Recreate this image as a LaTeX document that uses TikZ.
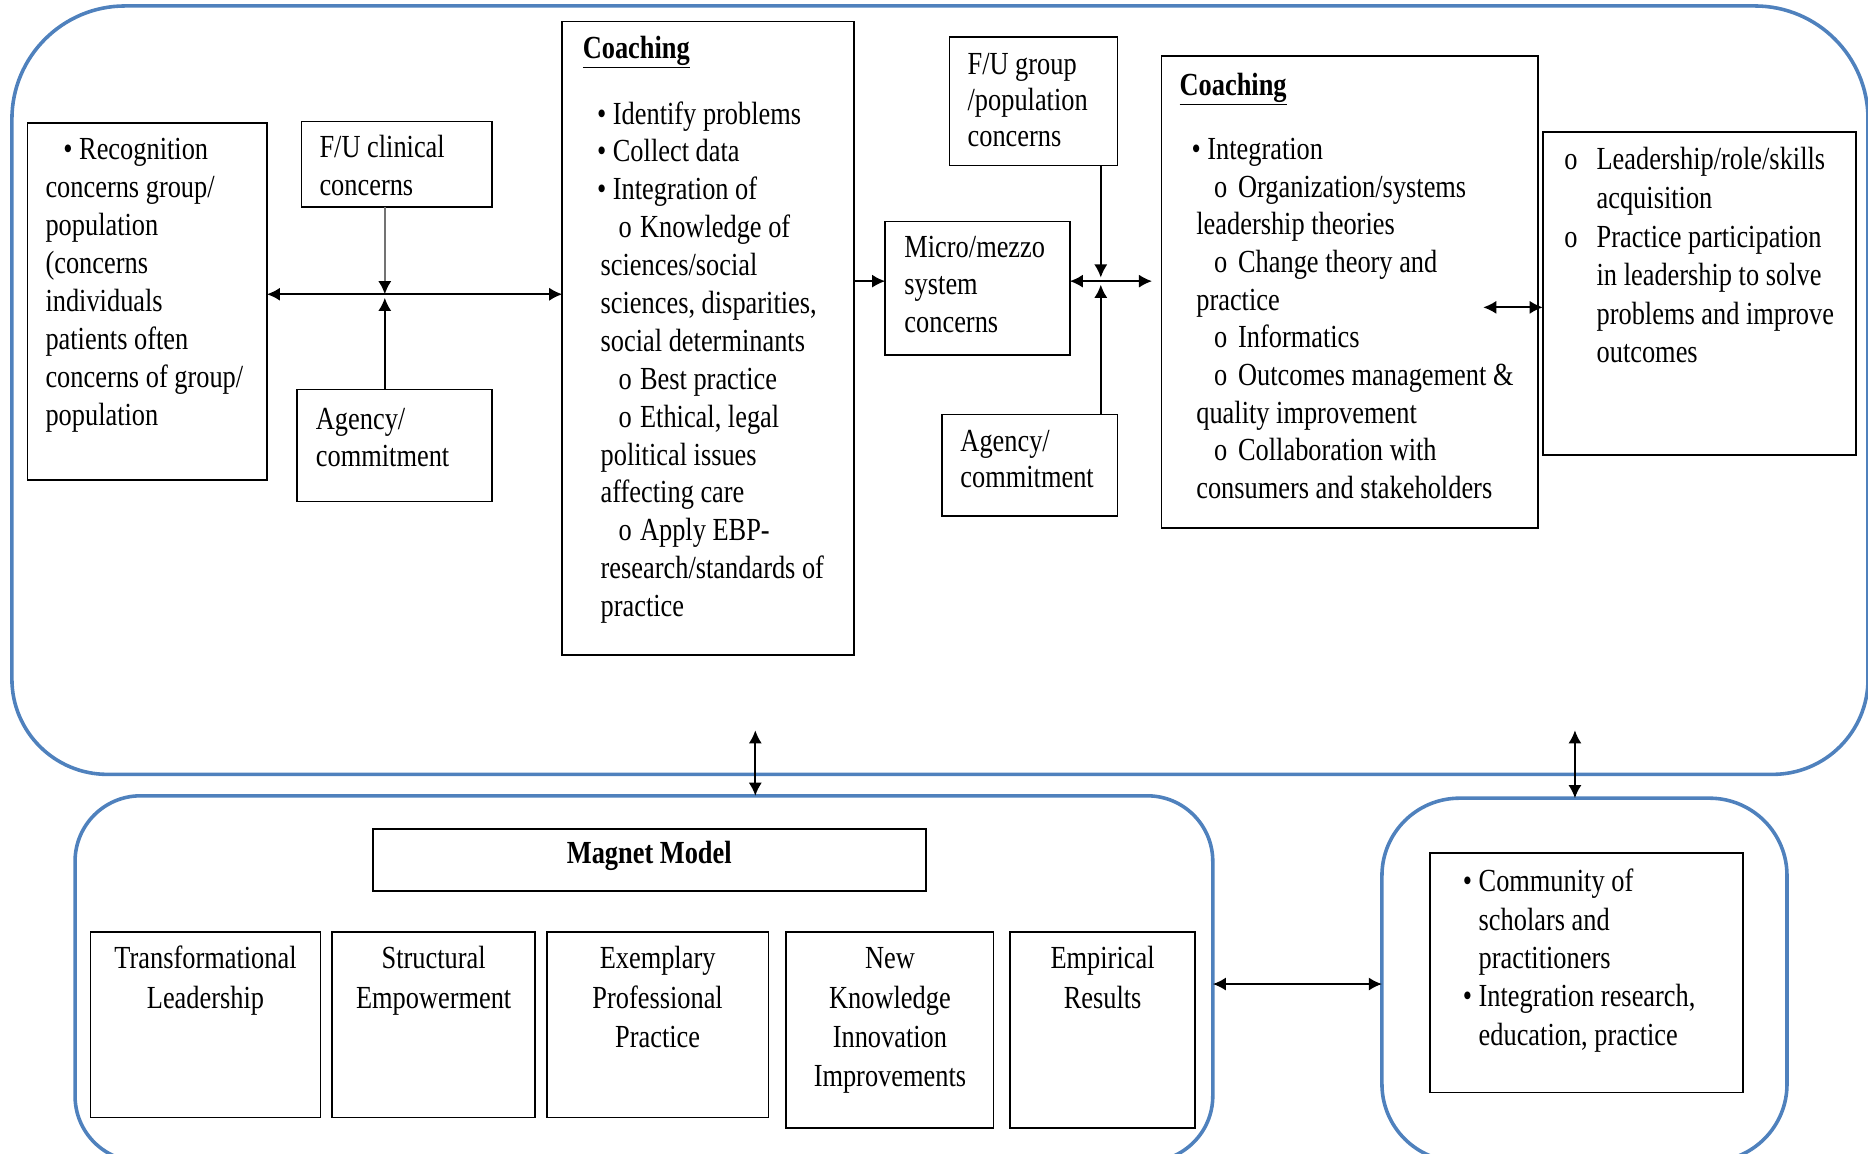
\documentclass[tikz,border=0pt]{standalone}
\usepackage{fontspec}
\newfontfamily\dgserif[FakeStretch=0.82]{Liberation Serif}
\usetikzlibrary{arrows.meta}
\definecolor{contblue}{RGB}{79,129,189}
\begin{document}
\begin{tikzpicture}[x=1pt,y=-1pt,
  box/.style={draw=black, line width=1.5pt, anchor=north west, inner sep=0pt, outer sep=0pt},
  txt/.style={font=\dgserif\fontsize{27}{31.8}\selectfont, align=left, anchor=north west, inner sep=0pt},
  ctxt/.style={font=\dgserif\fontsize{27}{33}\selectfont, align=center, anchor=north, inner sep=0pt},
  cont/.style={draw=contblue, line width=3pt},
  arr/.style={line width=1.5pt, -{Latex[length=11pt,width=11pt,color=black]}},
  dbl/.style={line width=1.5pt, {Latex[length=11pt,width=11pt]}-{Latex[length=11pt,width=11pt]}},
]
\useasboundingbox (0,0) rectangle (1568,968);

% containers
\draw[cont] (788,650) [rounded corners=80] -| (10,330) [rounded corners=95] |- (788,5) -| (1568,330) [rounded corners=80] |- (788,650);
\node[cont, rounded corners=55, anchor=north west, minimum width=955pt, minimum height=307pt, inner sep=0pt, outer sep=0pt] (magc) at (63,668) {};
\node[cont, rounded corners=65, anchor=north west, minimum width=340pt, minimum height=305pt, inner sep=0pt, outer sep=0pt] (comc) at (1160,670) {};

% boxes
\node[box, minimum width=201pt, minimum height=300pt] (rec) at (23,103) {};
\node[box, minimum width=160pt, minimum height=72pt] (fuc) at (253,102) {};
\node[box, minimum width=164pt, minimum height=94pt] (ag1) at (249,327) {};
\node[box, minimum width=245pt, minimum height=532pt] (co1) at (472,18) {};
\node[box, minimum width=155pt, minimum height=112pt] (mic) at (743,186) {};
\node[box, minimum width=141pt, minimum height=108pt] (fug) at (797,31) {};
\node[box, minimum width=147pt, minimum height=85pt] (ag2) at (791,348) {};
\node[box, minimum width=316pt, minimum height=396pt] (co2) at (975,47) {};
\node[box, minimum width=263pt, minimum height=271pt] (lead) at (1295,111) {};
\node[box, minimum width=464pt, minimum height=52pt] (mag) at (313,696) {};
\node[box, minimum width=193pt, minimum height=156pt] (b1) at (76,782) {};
\node[box, minimum width=170pt, minimum height=156pt] (b2) at (279,782) {};
\node[box, minimum width=186pt, minimum height=156pt] (b3) at (459,782) {};
\node[box, minimum width=174pt, minimum height=165pt] (b4) at (660,782) {};
\node[box, minimum width=155pt, minimum height=165pt] (b5) at (848,782) {};
\node[box, minimum width=263pt, minimum height=201pt] (com) at (1200,716) {};

% texts
\node[txt] (trec) at (38,111.7) {\strut\hspace*{15pt}•~Recognition\\concerns group/\\population\\(concerns\\individuals\\patients often\\concerns of group/\\population};
\node[txt] (tfuc) at (268,109.7) {\strut F/U clinical\\concerns};
\node[txt] (tag1) at (265,337.7) {\strut Agency/\\commitment};
\node[txt] (hco1) at (489,26.7) {\strut\underline{\textbf{Coaching}}};
\node[txt] (tco1) at (504,81.7) {\strut\hspace*{-3pt}•~Identify problems\\
\hspace*{-3pt}•~Collect data\\
\hspace*{-3pt}•~Integration of\\
\hspace*{15pt}o\hspace*{7pt}Knowledge of\\
sciences/social\\
sciences, disparities,\\
social determinants\\
\hspace*{15pt}o\hspace*{7pt}Best practice\\
\hspace*{15pt}o\hspace*{7pt}Ethical, legal\\
political issues\\
affecting care\\
\hspace*{15pt}o\hspace*{7pt}Apply EBP-\\
research/standards of\\
practice};
\node[txt, font=\dgserif\fontsize{27}{31.5}\selectfont] (tmic) at (759,193.7) {\strut Micro/mezzo\\system\\concerns};
\node[txt, font=\dgserif\fontsize{27}{30.5}\selectfont] (tfug) at (812,40.7) {\strut F/U group\\/population\\concerns};
\node[txt, font=\dgserif\fontsize{27}{30}\selectfont] (tag2) at (806,357.7) {\strut Agency/\\commitment};
\node[txt] (hco2) at (990,57.7) {\strut\underline{\textbf{Coaching}}};
\node[txt, font=\dgserif\fontsize{27}{31.6}\selectfont] (tco2) at (1004,111.7) {\strut\hspace*{-4pt}•~Integration\\
\hspace*{15pt}o\hspace*{9pt}Organization/systems\\
leadership theories\\
\hspace*{15pt}o\hspace*{9pt}Change theory and\\
practice\\
\hspace*{15pt}o\hspace*{9pt}Informatics\\
\hspace*{15pt}o\hspace*{9pt}Outcomes management \&\\
quality improvement\\
\hspace*{15pt}o\hspace*{9pt}Collaboration with\\
consumers and stakeholders};
\node[txt, font=\dgserif\fontsize{27}{32.4}\selectfont] (tlead) at (1340,119.7) {\strut\llap{o\hspace*{16pt}}Leadership/role/skills\\acquisition\\\llap{o\hspace*{16pt}}Practice participation\\in leadership to solve\\problems and improve\\outcomes};
\node[txt, font=\dgserif\fontsize{27}{32.2}\selectfont] (tcom) at (1241,725.7) {\strut\llap{•~}Community of\\scholars and\\practitioners\\\llap{•~}Integration research,\\education, practice};
\node[font=\dgserif\fontsize{27}{31.8}\selectfont, anchor=base, inner sep=0pt] (tmag) at (545,725) {\textbf{Magnet Model}};
\node[ctxt] (tb1) at (172.5,789.9) {\strut Transformational\\Leadership};
\node[ctxt] (tb2) at (364,789.9) {\strut Structural\\Empowerment};
\node[ctxt] (tb3) at (552,789.9) {\strut Exemplary\\Professional\\Practice};
\node[ctxt] (tb4) at (747,789.9) {\strut New\\Knowledge\\Innovation\\Improvements};
\node[ctxt] (tb5) at (925.5,789.9) {\strut Empirical\\Results};

% connectors
\coordinate (j1) at (323,247);
\draw[dbl] (j1 -| rec.east) -- (j1 -| co1.west);
\draw[arr, draw=black!55] (j1 |- fuc.south) -- (j1);
\draw[arr] (j1 |- ag1.north) -- ([yshift=-3pt]j1);

\coordinate (j2) at (924,236);
\coordinate (r2) at (967,236);
\draw[arr] (j2 -| co1.east) -- (j2 -| mic.west);
\draw[dbl] (j2 -| mic.east) -- (r2);
\draw[arr] (j2 |- fug.south) -- ([yshift=3pt]j2);
\draw[arr] (j2 |- ag2.north) -- ([yshift=-3pt]j2);

\coordinate (j3) at (1245,258);
\draw[dbl] (j3) -- (j3 -| lead.west);

\coordinate (v1) at (634,613);
\draw[dbl] (v1) -- (v1 |- magc.north);
\coordinate (v2) at (1322,613);
\draw[dbl] (v2) -- (v2 |- comc.north);

\coordinate (h1) at (1090,826);
\draw[dbl] (h1 -| magc.east) -- (h1 -| comc.west);
\end{tikzpicture}
\end{document}
